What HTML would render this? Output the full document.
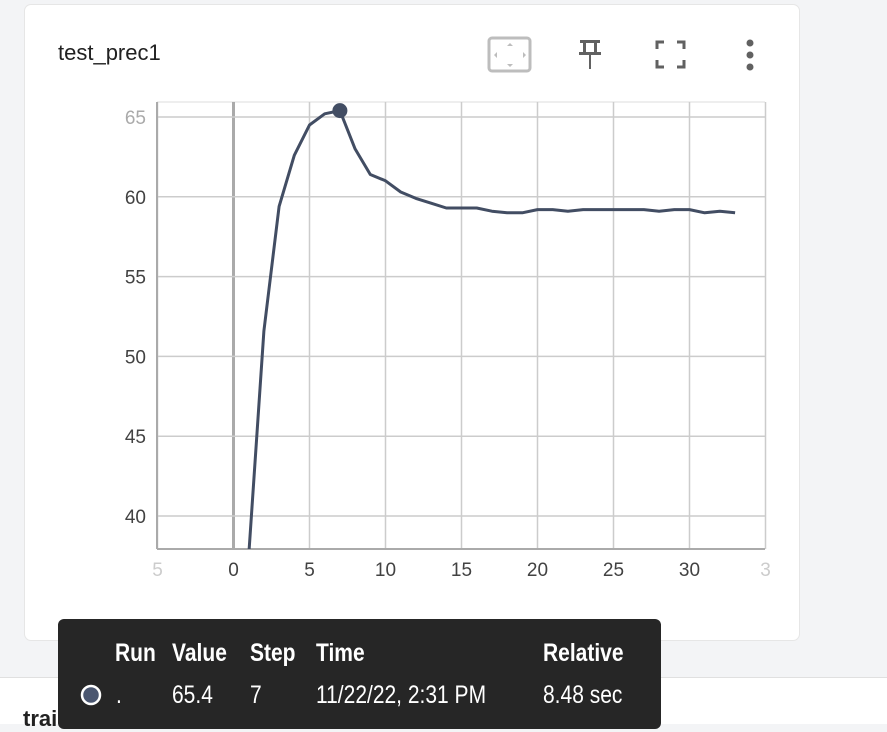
<!DOCTYPE html>
<html><head><meta charset="utf-8"><style>
body{margin:0;width:887px;height:723px;background:#f3f4f6;font-family:"Liberation Sans",sans-serif;position:relative;overflow:hidden}
.card{position:absolute;left:25px;top:5px;width:774px;height:635px;background:#fff;border-radius:6px;box-shadow:0 0 0 1px #e6e6e6}
.title{position:absolute;left:58px;top:40px;font-size:22px;color:#212121}
.lower{position:absolute;left:0;top:677px;width:887px;height:46px;background:#fff;border-top:1px solid #e0e0e0}
.tip{position:absolute;left:58px;top:619px;width:603px;height:110px;background:#262626;border-radius:6px;color:#fff;font-size:25px;font-family:"Liberation Sans",sans-serif}
.tip span{position:absolute;transform:scaleX(0.84);transform-origin:left top;white-space:nowrap}
</style></head><body>
<div class="card"></div>
<div class="title">test_prec1</div>
<svg style="position:absolute;left:480px;top:20px" width="300" height="80">
<g><rect x="9" y="18" width="41" height="33" rx="3" fill="none" stroke="#bdbdbd" stroke-width="3"/><path d="M30 23l-3 3h6zM30 47l-3-3h6zM14 35l3-3v6zM46 35l-3-3v6z" fill="#bdbdbd"/></g>
<g fill="#616161"><rect x="100" y="20" width="20" height="3"/><rect x="103" y="22" width="3" height="12"/><rect x="114" y="22" width="3" height="12"/><rect x="99" y="32" width="22" height="3"/><rect x="109" y="34" width="2" height="15"/></g>
<g fill="none" stroke="#616161" stroke-width="3"><path d="M177 29v-7h7M197 22h7v7M204 40v7h-7M184 47h-7v-7"/></g>
<g fill="#616161"><circle cx="270" cy="23" r="3.5"/><circle cx="270" cy="35" r="3.5"/><circle cx="270" cy="47" r="3.5"/></g>
</svg>
<svg id="chart" style="position:absolute;left:0;top:0" width="887" height="640"></svg>
<div class="lower"><div style="position:absolute;left:23px;top:28px;font-size:22px;font-weight:bold;color:#212121">train_err</div></div>
<div class="tip">
<span style="left:57px;top:20px;font-weight:bold">Run</span><span style="left:114px;top:20px;font-weight:bold">Value</span><span style="left:192px;top:20px;font-weight:bold">Step</span><span style="left:258px;top:20px;font-weight:bold">Time</span><span style="left:485px;top:20px;font-weight:bold">Relative</span>
<svg style="position:absolute;left:22px;top:64px" width="24" height="24"><circle cx="11" cy="12" r="9" fill="#4a5670" stroke="#fff" stroke-width="2.5"/></svg>
<span style="left:58px;top:62px">.</span><span style="left:114px;top:62px">65.4</span><span style="left:192px;top:62px">7</span><span style="left:258px;top:62px">11/22/22, 2:31 PM</span><span style="left:485px;top:62px">8.48 sec</span>
</div>
<script>
const steps=[1,2,3,4,5,6,7,8,9,10,11,12,13,14,15,16,17,18,19,20,21,22,23,24,25,26,27,28,29,30,31,32,33];
const values=[37.5,51.6,59.4,62.6,64.5,65.2,65.4,63.0,61.4,61.0,60.3,59.9,59.6,59.3,59.3,59.3,59.1,59.0,59.0,59.2,59.2,59.1,59.2,59.2,59.2,59.2,59.2,59.1,59.2,59.2,59.0,59.1,59.0];
const xTicks=[-5,0,5,10,15,20,25,30,35];
const yTicks=[40,45,50,55,60,65];
const hoverIndex=6;
const ns="http://www.w3.org/2000/svg",svg=document.getElementById('chart');
const L=157,R=765,T=102,B=549;
const x=v=>233.5+(v-0)*15.2, y=v=>117+(65-v)*15.96;
function mk(t,a,p){const e=document.createElementNS(ns,t);for(const k in a)e.setAttribute(k,a[k]);(p||svg).appendChild(e);return e;}
const defs=mk('defs',{});const cp=mk('clipPath',{id:'c'},defs);mk('rect',{x:L,y:T,width:R-L,height:B-T},cp);
mk('line',{x1:L,y1:T,x2:R,y2:T,stroke:'#ddd','stroke-width':1});
xTicks.forEach(t=>{const X=x(t);const g=mk('line',{x1:X,y1:T,x2:X,y2:B,stroke:t===0?'#aaa':'#ccc','stroke-width':t===0?3:1.5});

const tx=mk('text',{x:X,y:576,'text-anchor':'middle','font-size':19,fill:(t<0||t>30)?'#ccc':'#424242','font-family':'Liberation Sans'});tx.textContent=t<0?'5':(t>30?'3':t);
});
yTicks.forEach(t=>{const Y=y(t);const g=mk('line',{x1:L,y1:Y,x2:R,y2:Y,stroke:'#ccc','stroke-width':1.5});

const tx=mk('text',{x:146,y:Y+7,'text-anchor':'end','font-size':19,fill:t===65?'#aaa':'#424242','font-family':'Liberation Sans'});tx.textContent=t;
});
mk('line',{x1:L,y1:T,x2:L,y2:B,stroke:'#aaa','stroke-width':2});
mk('line',{x1:L,y1:B,x2:R,y2:B,stroke:'#aaa','stroke-width':2});
const pts=steps.map((s,i)=>x(s).toFixed(1)+','+y(values[i]).toFixed(1)).join(' ');
const line=mk('polyline',{points:pts,fill:'none',stroke:'#424d63','stroke-width':3,'stroke-linejoin':'round','clip-path':'url(#c)'});

const dot=mk('circle',{cx:x(steps[hoverIndex]),cy:y(values[hoverIndex]),r:7.5,fill:'#424d63'});

</script>
</body></html>
